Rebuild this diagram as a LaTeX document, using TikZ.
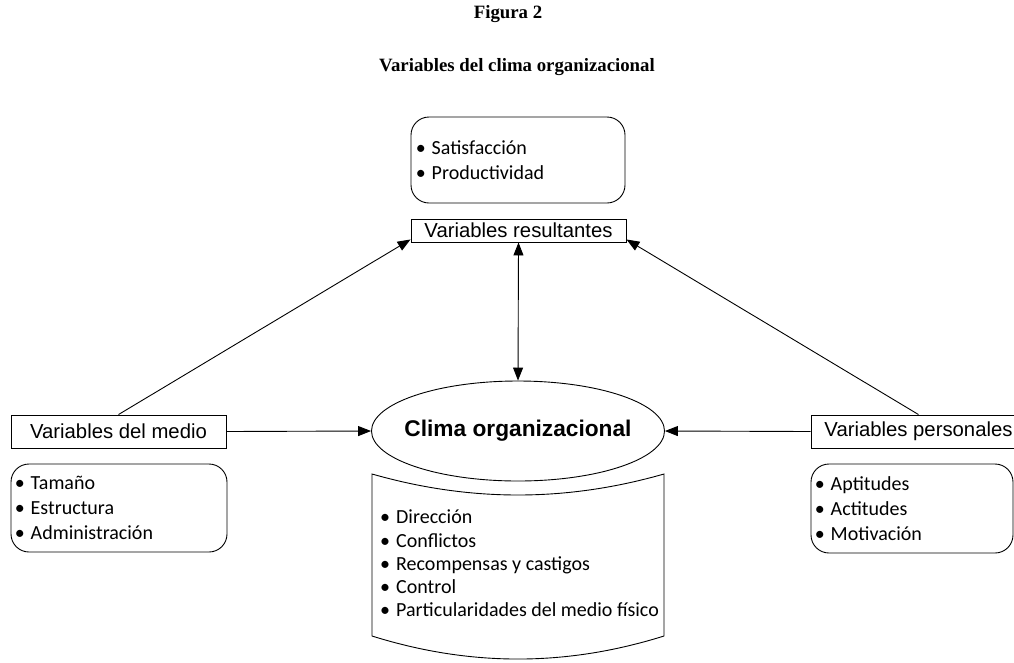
\documentclass[tikz,border=0pt]{standalone}
\usepackage{fontspec}
\setmainfont{Liberation Sans}
\newfontfamily\titlefont{Liberation Serif}
\newfontfamily\listfont{Carlito}
\usetikzlibrary{arrows.meta,shapes.geometric,calc}
\tikzset{
  >={Triangle[length=13pt,width=10pt]},
  conn/.style={line width=0.9pt, ->},
  labelbox/.style={draw, line width=0.9pt, minimum width=215pt, inner sep=0pt, font=\fontsize{20.3}{24}\selectfont},
  listbox/.style={draw, line width=0.9pt, rounded corners=18pt, inner sep=0pt},
  listtext/.style={anchor=west, inner sep=0pt, align=left, font=\listfont\fontsize{20}{25}\selectfont},
  titletext/.style={font=\titlefont\bfseries\fontsize{18.8}{22}\selectfont, inner sep=0pt},
}
\newcommand\bitem[1]{\makebox[16pt][l]{\textbullet}#1}
\begin{document}
\begin{tikzpicture}[x=1pt,y=-1pt]
\useasboundingbox (0,0) rectangle (1014,662);
\node[titletext] (fig) at (508,14) {Figura 2};
\node[titletext] (tit) at (517,67) {Variables del clima organizacional};
% top list
\node[listbox, minimum width=214pt, minimum height=86pt] (rlist) at (518,160) {};
\node[listtext] (rlistt) at ($(rlist.west)+(5,0)$) {\bitem{Satisfacción}\\\bitem{Productividad}};
% label boxes
\node[labelbox, minimum height=23pt] (res) at (518.5,230.5) {Variables resultantes};
\node[labelbox, minimum height=33pt] (med) at (118.5,431.5) {Variables del medio};
\node[labelbox, minimum height=33pt] (per) at (918.5,431.5) {Variables personales};
% side lists
\node[listbox, minimum width=216pt, minimum height=88pt] (mlist) at (119,508) {};
\node[listtext] (mlistt) at ($(mlist.west)+(4,0)$) {\bitem{Tamaño}\\\bitem{Estructura}\\\bitem{Administración}};
\node[listbox, minimum width=202pt, minimum height=89pt] (plist) at (912,508.5) {};
\node[listtext] (plistt) at ($(plist.west)+(4,0)$) {\bitem{Aptitudes}\\\bitem{Actitudes}\\\bitem{Motivación}};
% central ellipse
\node[draw, ellipse, line width=0.9pt, minimum width=293pt, minimum height=100pt, inner sep=0pt,
      font=\bfseries\fontsize{22.7}{27}\selectfont] (clima) at (518,431) {\makebox[0pt]{Clima organizacional}};
% scroll shape
\draw[line width=0.9pt] (372,474) .. controls (470,502) and (566,502) .. (664,474)
  -- (664,636) .. controls (566,666.7) and (470,666.7) .. (372,636) -- cycle;
\node[listtext, font=\listfont\fontsize{20}{23.3}\selectfont] (clist) at (380,563.5)
  {\bitem{Dirección}\\\bitem{Conflictos}\\\bitem{Recompensas y castigos}\\\bitem{Control}\\\bitem{Particularidades del medio físico}};
% connectors
\draw[conn] (med.north) -- ($(res.south west)+(0,-3)$);
\draw[conn] (per.north) -- ($(res.south east)+(0,-3)$);
\draw[conn] (med.east) -- (clima.west);
\draw[conn] (per.west) -- (clima.east);
\draw[line width=0.9pt, <->] (res.south) -- (clima.north);
\end{tikzpicture}
\end{document}
